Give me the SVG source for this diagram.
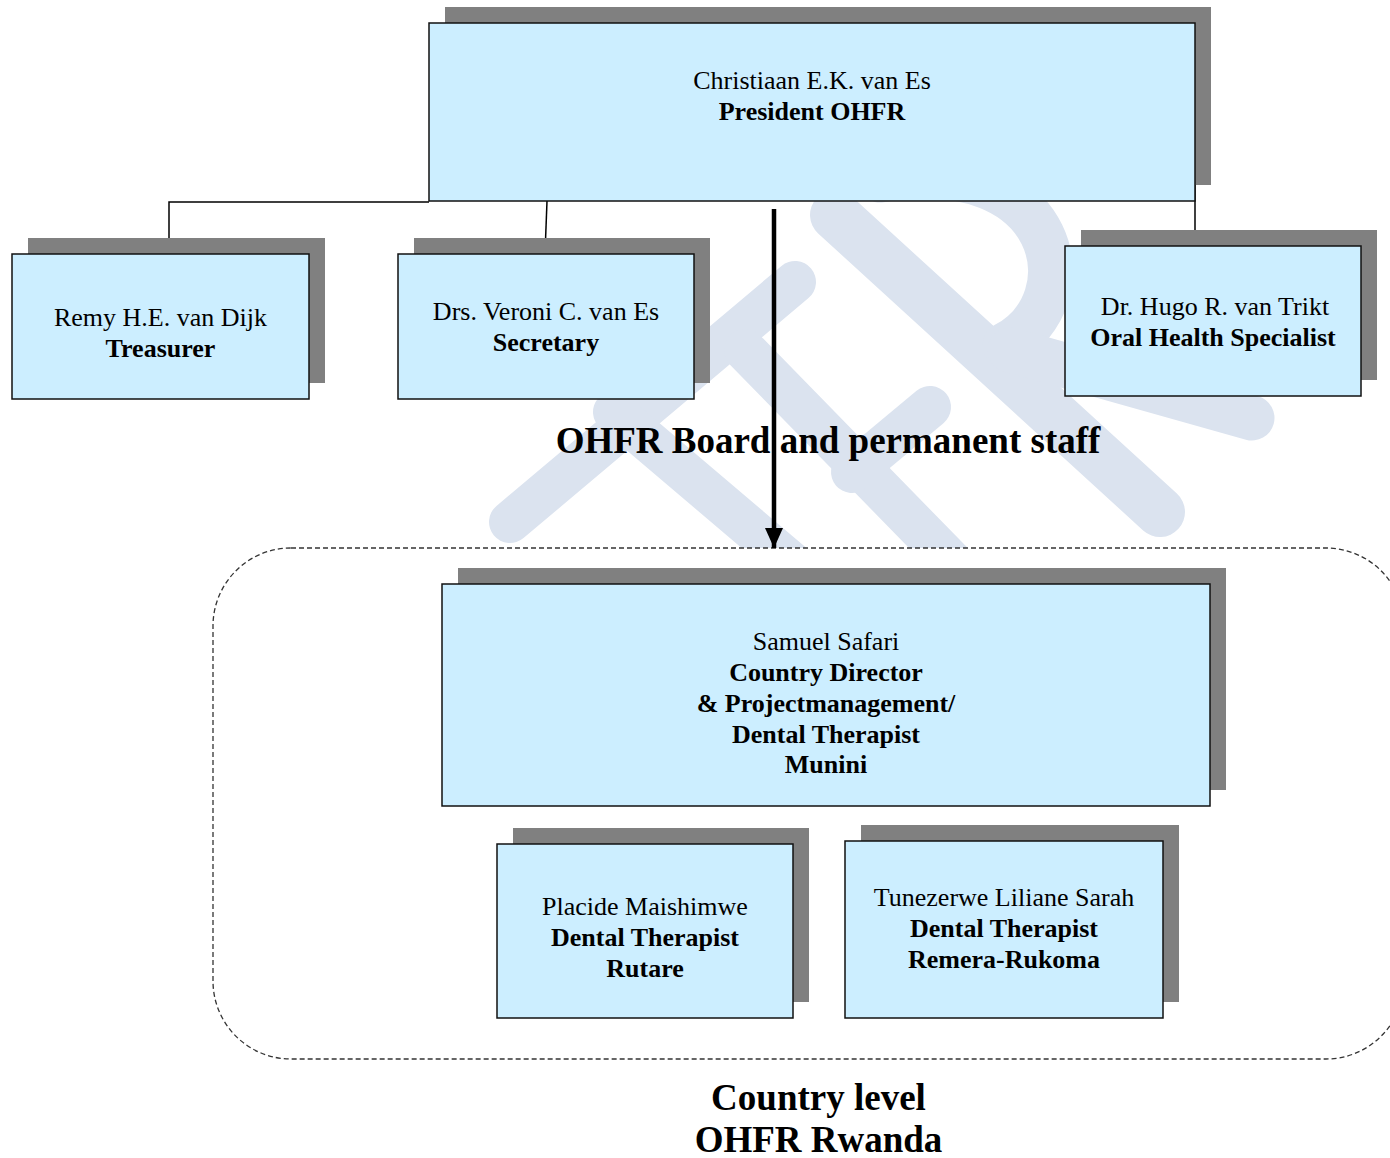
<svg xmlns="http://www.w3.org/2000/svg" width="1390" height="1158" viewBox="0 0 1390 1158">
<style>
.shadow{fill:#808080}
.box{fill:#cceeff;stroke:#111;stroke-width:1.5}
.t{font-family:"Liberation Serif","Times New Roman",serif;font-size:26px;fill:#000;text-anchor:middle}
.b{font-weight:bold}
.title{font-family:"Liberation Serif","Times New Roman",serif;font-size:37px;font-weight:bold;fill:#000;text-anchor:middle}
.wm{fill:none;stroke:#dbe3ef;stroke-linecap:round;stroke-linejoin:round}
.conn{fill:none;stroke:#000;stroke-width:1.5}
</style>
<defs>
<marker id="ah" markerWidth="20" markerHeight="18" refX="20" refY="9" orient="auto" markerUnits="userSpaceOnUse" viewBox="0 0 20 18">
<path d="M0,0 L20,9 L0,18 Z" fill="#000"/>
</marker>
</defs>
<rect width="1390" height="1158" fill="#fff"/>
<g id="watermark">
<path class="wm" stroke-width="42" d="M510,522 L795,282"/>
<path class="wm" stroke-width="42" d="M614,412 L800,570"/>
<path class="wm" stroke-width="42" d="M745,350 L955,565"/>
<path class="wm" stroke-width="42" d="M852,472 L930,407"/>
<path class="wm" stroke-width="50" d="M835,215 L1160,512"/>
<path class="wm" stroke-width="45" d="M880,180 C1060,150 1090,300 1005,345"/>
<path class="wm" stroke-width="45" d="M1010,350 L1252,418"/>
</g>
<rect id="country-frame" x="213" y="548" width="1191" height="511" rx="78" ry="78" fill="#fff" stroke="#333" stroke-width="1.3" stroke-dasharray="5,3"/>
<g id="connectors">
<path class="conn" d="M429,202 H169 V238"/>
<path class="conn" d="M547,201 L545,254"/>
<path class="conn" d="M1195,185 V274"/>
<path d="M774,209 V548" stroke="#000" stroke-width="4.5" fill="none" marker-end="url(#ah)"/>
</g>
<g id="president">
<rect class="shadow" x="445" y="7" width="766" height="178"/>
<rect class="box" x="429" y="23" width="766" height="178"/>
<text class="t" x="812" y="89">Christiaan E.K. van Es</text>
<text class="t b" x="812" y="120">President OHFR</text>
</g>
<g id="treasurer">
<rect class="shadow" x="28" y="238" width="297" height="145"/>
<rect class="box" x="12" y="254" width="297" height="145"/>
<text class="t" x="160.5" y="326">Remy H.E. van Dijk</text>
<text class="t b" x="160.5" y="357">Treasurer</text>
</g>
<g id="secretary">
<rect class="shadow" x="414" y="238" width="296" height="145"/>
<rect class="box" x="398" y="254" width="296" height="145"/>
<text class="t" x="546" y="320">Drs. Veroni C. van Es</text>
<text class="t b" x="546" y="351">Secretary</text>
</g>
<g id="oral-health">
<rect class="shadow" x="1081" y="230" width="296" height="150"/>
<rect class="box" x="1065" y="246" width="296" height="150"/>
<text class="t" x="1215" y="315">Dr. Hugo R. van Trikt</text>
<text class="t b" x="1213" y="346">Oral Health Specialist</text>
</g>
<text class="title" x="828" y="453">OHFR Board and permanent staff</text>
<g id="country-director">
<rect class="shadow" x="458" y="568" width="768" height="222"/>
<rect class="box" x="442" y="584" width="768" height="222"/>
<text class="t" x="826" y="650">Samuel Safari</text>
<text class="t b" x="826" y="681">Country Director</text>
<text class="t b" x="826" y="712">&amp; Projectmanagement/</text>
<text class="t b" x="826" y="743">Dental Therapist</text>
<text class="t b" x="826" y="773">Munini</text>
</g>
<g id="placide">
<rect class="shadow" x="513" y="828" width="296" height="174"/>
<rect class="box" x="497" y="844" width="296" height="174"/>
<text class="t" x="645" y="915">Placide Maishimwe</text>
<text class="t b" x="645" y="946">Dental Therapist</text>
<text class="t b" x="645" y="977">Rutare</text>
</g>
<g id="tunezerwe">
<rect class="shadow" x="861" y="825" width="318" height="177"/>
<rect class="box" x="845" y="841" width="318" height="177"/>
<text class="t" x="1004" y="906">Tunezerwe Liliane Sarah</text>
<text class="t b" x="1004" y="937">Dental Therapist</text>
<text class="t b" x="1004" y="968">Remera-Rukoma</text>
</g>
<text class="title" x="818.5" y="1110">Country level</text>
<text class="title" x="818.5" y="1152">OHFR Rwanda</text>
</svg>
